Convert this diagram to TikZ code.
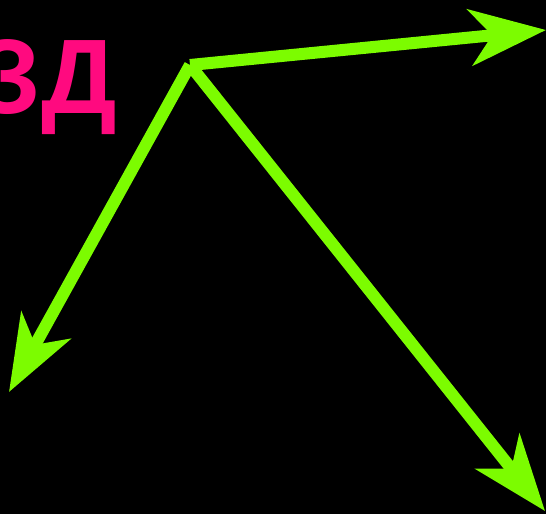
\documentclass[tikz,border=0pt]{standalone}
\usepackage{fontspec}
\setmainfont{Liberation Sans}
\usetikzlibrary{arrows.meta}
\definecolor{arrowgreen}{HTML}{7CFC00}
\definecolor{labelpink}{HTML}{FF0A7F}
\tikzset{
  vec/.style={draw=arrowgreen, line width=12pt,
    -{Stealth[length=76pt, width=56pt, inset=22pt, fill=arrowgreen]}},
  bigtext/.style={text=labelpink, font=\fontsize{106}{106}\selectfont\bfseries, inner sep=0pt}
}
\begin{document}
\begin{tikzpicture}[x=1pt,y=-1pt]
  \fill[black] (0,0) rectangle (546,514);
  \useasboundingbox (0,0) rectangle (546,514);
  \node[bigtext, anchor=base east] (lbl) at (117,113) {ЗД};
  \coordinate (o) at (190,65);
  \coordinate (r) at (546,30);
  \coordinate (ll) at (9,392);
  \coordinate (lr) at (545,511);
  \draw[vec] (o) -- (r);
  \draw[vec] (o) -- (ll);
  \draw[vec] (o) -- (lr);
\end{tikzpicture}
\end{document}
